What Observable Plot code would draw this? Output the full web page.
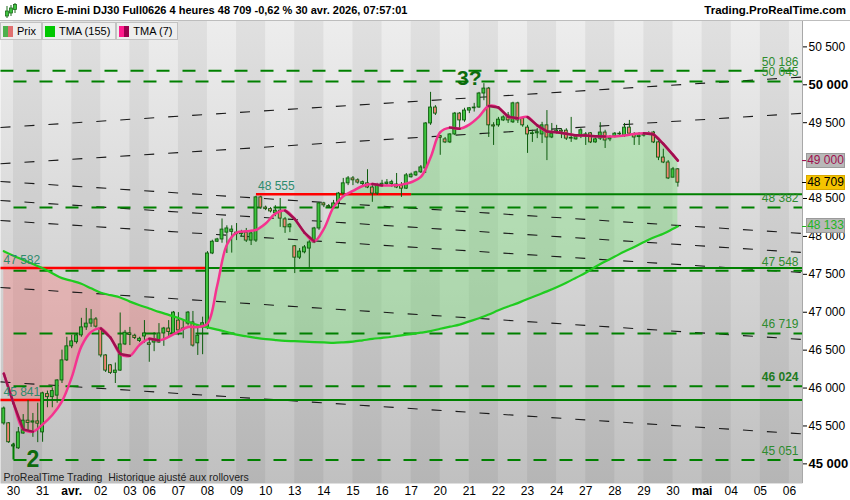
<!DOCTYPE html>
<html lang="fr"><head><meta charset="utf-8">
<script src="https://cdn.jsdelivr.net/npm/d3@7"></script>
<script src="https://cdn.jsdelivr.net/npm/@observablehq/plot@0.6"></script>
<style>
html,body{margin:0;padding:0;background:#fff}
body{width:850px;height:500px;position:relative;overflow:hidden;font-family:Arial,"Liberation Sans",Helvetica,sans-serif;color:#000}
#head{position:absolute;left:0;top:0;width:850px;height:21px;background:#fff;border-bottom:1px solid #bdbdbd;box-sizing:border-box;z-index:2}
#title{position:absolute;left:24px;top:4px;font-size:11px;font-weight:bold;white-space:nowrap}
#site{position:absolute;right:4px;top:4px;font-size:11.5px;font-weight:bold;white-space:nowrap}
#icon{position:absolute;left:4px;top:3px}
#chart{position:absolute;left:0;top:20px}
#legend{position:absolute;left:0;top:22px;height:18px;display:flex;z-index:2}
.lg{height:16px;border:1px solid #c2c2c2;background:#eeeeee;display:flex;align-items:center;font-size:11px;padding:0 5px 0 2px;white-space:nowrap}
.sw{width:10px;height:11px;margin-right:4px;display:flex}
.sw span{flex:1}
.badge{position:absolute;left:806px;width:37px;height:13px;font-size:12px;line-height:13px;text-align:center;border:1px solid #9a9a9a;z-index:3}
.btick{position:absolute;left:802px;width:4px;height:1px;z-index:3}
</style></head><body>
<div id="head">
  <svg id="icon" width="14" height="16"><line x1="3" y1="3" x2="3" y2="15" stroke="#1a6b1a"/><rect x="1.5" y="8" width="3" height="5" fill="#3ec43e" stroke="#1a6b1a" stroke-width="0.8"/><line x1="7" y1="2" x2="7" y2="13" stroke="#1a6b1a"/><rect x="5.5" y="5" width="3" height="5" fill="#3ec43e" stroke="#1a6b1a" stroke-width="0.8"/><line x1="11" y1="0" x2="11" y2="10" stroke="#1a6b1a"/><rect x="9.5" y="1.5" width="3" height="5" fill="#3ec43e" stroke="#1a6b1a" stroke-width="0.8"/></svg>
  <div id="title"></div>
  <div id="site">Trading.ProRealTime.com</div>
</div>
<div id="legend">
  <div class="lg"><div class="sw"><span style="background:#4cb04c"></span><span style="background:#e07070"></span></div>Prix</div>
  <div class="lg"><div class="sw"><span style="background:#00c800"></span></div>TMA (155)</div>
  <div class="lg"><div class="sw"><span style="background:#ff1a8c"></span><span style="background:#99004d"></span></div>TMA (7)</div>
</div>
<div id="chart"></div>
<script>
// ---------- header ----------
const titleText = "Micro E-mini DJ30 Full0626 4 heures 48 709 -0,62 % 30 avr. 2026, 07:57:01";
const footText = "ProRealTime Trading\u00a0 Historique ajusté aux rollovers";

// ---------- 4-hour candles (bar index = position) ----------
const open  = [45533,45535,45230,45205,45400,45570,45545,45560,45415,45920,45880,45900,46100,46365,46550,46605,46695,46800,46850,46905,
46785,46430,46300,46200,46230,46575,46720,46690,46620,46680,46590,46600,46600,46720,46785,46720,46890,46770,46850,46865,
46590,46800,46800,47775,47930,47960,48050,48060,48050,48030,48050,47945,47945,48515,48380,48360,48305,48340,48225,48120,
47870,47720,47790,47840,47920,48105,48435,48400,48385,48435,48565,48700,48765,48740,48690,48700,48645,48565,48670,48690,
48690,48685,48670,48630,48780,48805,48845,48895,49490,49700,49320,49280,49240,49345,49620,49530,49660,49690,49700,49885,
49950,49465,49465,49530,49595,49505,49755,49555,49435,49350,49360,49345,49465,49305,49370,49395,49395,49290,49280,49320,
49345,49360,49240,49290,49370,49280,49320,49355,49330,49435,49345,49310,49330,49345,49370,49240,49040,48975,48775,48885];
const high  = [45750,45545,45270,45480,45650,45835,45665,45800,45945,45960,46000,46110,46500,46670,46695,46720,46920,47050,47035,46930,
46800,46440,46310,46330,46990,46760,46800,46710,46670,46890,46650,46730,46850,46800,46890,47010,46995,46890,47010,47010,
46790,46935,47800,47950,47975,48230,48140,48140,48170,48080,48105,48080,48530,48530,48400,48380,48405,48500,48250,48170,
47880,47840,47880,47945,48120,48450,48450,48420,48475,48580,48765,48790,48790,48760,48730,48880,48670,48700,48740,48750,
48740,48830,48710,48830,48835,48860,48935,49500,49900,49725,49330,49305,49355,49635,49635,49690,49700,49755,49900,50015,
49965,49500,49570,49590,49635,49770,49770,49570,49465,49400,49425,49505,49660,49490,49465,49420,49420,49570,49335,49420,
49370,49370,49295,49500,49400,49330,49370,49380,49490,49530,49370,49370,49370,49380,49385,49265,49150,49000,48910,48895];
const low   = [45510,45270,45200,45190,45390,45440,45350,45280,45285,45740,45740,45800,46060,46350,46520,46580,46670,46760,46800,46790,
46400,46205,46180,46060,46220,46560,46560,46640,46600,46590,46340,46480,46590,46550,46680,46700,46690,46650,46820,46540,
46430,46440,46770,47760,47920,47910,47775,47780,47945,47990,47920,47880,47920,48355,48340,48310,48260,48120,48040,48050,
47510,47695,47770,47575,47905,48080,48380,48370,48370,48370,48515,48670,48670,48690,48670,48630,48450,48540,48660,48670,
48645,48630,48515,48620,48770,48790,48830,48830,49465,49595,49070,49225,49225,49330,49425,49505,49620,49640,49690,49790,
49305,49200,49440,49515,49490,49490,49490,49440,49095,49240,49290,49225,49000,49290,49355,49290,49265,49240,49270,49290,
49200,49225,49230,49265,49160,49250,49300,49305,49305,49330,49200,49200,49310,49335,49225,49000,48960,48750,48775,48650];
const close = [45730,45285,45245,45415,45570,45540,45560,45530,45930,45880,45960,46100,46365,46550,46615,46695,46800,46850,46905,46810,
46430,46230,46200,46230,46575,46730,46700,46660,46650,46720,46570,46640,46720,46785,46740,46995,46760,46785,46995,46560,
46690,46855,47775,47930,47960,48090,48105,48090,48030,48050,47945,48040,48515,48380,48360,48330,48340,48235,48120,48155,
47720,47800,47855,47920,48105,48435,48410,48385,48435,48565,48700,48765,48740,48710,48715,48645,48565,48670,48695,48710,
48715,48645,48630,48805,48815,48845,48910,49490,49700,49620,49300,49240,49345,49620,49530,49660,49690,49700,49885,49950,
49465,49450,49540,49570,49530,49755,49530,49465,49345,49360,49375,49465,49305,49355,49395,49380,49290,49300,49320,49400,
49335,49240,49280,49370,49265,49300,49355,49345,49435,49355,49305,49330,49345,49360,49240,49040,48975,48765,48885,48709];

// ---------- moving averages (every 2 bars + last) ----------
const tmaBars = d3.range(0, 140, 2).concat([139]);
const tma7 = [46190,45800,45455,45425,45520,45645,45825,46140,46550,46740,46785,46665,46450,46425,46570,46650,46630,46675,46745,46805,
46805,46850,47350,47890,48050,48068,48085,48170,48300,48342,48230,48050,47935,48100,48386,48530,48600,48665,48690,48672,
48673,48683,48715,48785,49040,49375,49435,49420,49475,49580,49720,49700,49580,49560,49575,49465,49385,49375,49355,49333,
49331,49320,49318,49318,49330,49352,49362,49345,49220,49075,49000];
const tma155 = [47805,47745,47690,47635,47580,47515,47450,47415,47375,47315,47257,47225,47195,47140,47093,47050,47005,46965,46925,46875,
46830,46800,46770,46740,46705,46683,46662,46645,46633,46623,46618,46612,46607,46603,46597,46603,46613,46630,46648,46662,
46677,46695,46712,46730,46750,46782,46810,46837,46880,46920,46970,47025,47075,47120,47175,47225,47275,47330,47390,47455,
47520,47600,47670,47735,47800,47860,47925,47985,48035,48100,48133];

// ---------- time axis ----------
const dayLabels = ["30","31","avr.","02","03","06","07","08","09","10","13","14","15","16","17","20","21","22","23","24","27","28","29","30","mai","04","05","06"];
const dayStart  = [2,8,14,20,26,30,36,42,48,54,60,66,72,78,84,90,96,102,108,114,120,126,132,138,144,150,156,162];
const monthLabels = ["avr.","mai"];
const xDomain = [-0.68, 164.7];

// ---------- price axis ----------
const yDomain = [44741, 50848];
const yTicks = [45000,45500,46000,46500,47000,47500,48000,48500,49000,49500,50000,50500];
const yBoldTicks = [45000,50000];

// ---------- horizontal levels ----------
const dashLevels = [50186,50045,48382,47548,46719,46024,45051];
const dashStartBar = [-0.68,2,2,2,2,2,2];
const dashBold = [46024];
const solidLevels = [48555,47582,45841];
const solidStartBar = [52,-0.68,-0.68];
const solidBreakBar = [84,42,8];

// ---------- black dashed trend lines (price at left edge, price at right edge) ----------
const trendLeft  = [49437,48958,48725,48474,48210,47327,46081];
const trendRight = [50103,49624,48039,47788,47524,46641,45395];

// ---------- annotations ----------
const annText  = ["3?","2"];
const annBar   = [96,6];
const annPrice = [50086,45060];
const annSize  = [21,23];
const bracketBar = 2, bracketLow = 45051, bracketHigh = 45270;

// ---------- badges ----------
const lastPrice = 48709;

// ===== build =====
document.getElementById("title").textContent = titleText;
const fmt = v => d3.format(",")(v).replace(/,/g, " ");
const bars = open.map((o, i) => ({i, o, h: high[i], l: low[i], c: close[i]}));
const tma = tmaBars.map((b, k) => ({b, t7: tma7[k], t155: tma155[k]}));
const segs = tma.slice(1).map((d, k) => ({b1: tma[k].b, v1: tma[k].t7, b2: d.b, v2: d.t7, down: d.t7 < tma[k].t7}));
const bands = dayStart.map((s, k) => ({s, e: k + 1 < dayStart.length ? dayStart[k + 1] : xDomain[1], dark: k % 2 === 0}));
const dashData = dashLevels.map((v, k) => ({v, s: dashStartBar[k]}));
const solidData = solidLevels.map((v, k) => ({v, s: solidStartBar[k], b: solidBreakBar[k]}));
const trendData = trendLeft.map((l, k) => ({l, r: trendRight[k]}));
const annData = annText.map((t, k) => ({t, b: annBar[k], v: annPrice[k], size: annSize[k]}));
const dayData = dayLabels.map((t, k) => ({t, s: dayStart[k]}));
const labelOf = new Map(dayData.map(d => [d.s, d.t]));

const green = "#008000";
const chart = Plot.plot({
  width: 850, height: 480,
  marginLeft: 0, marginRight: 48, marginTop: 0, marginBottom: 17,
  x: {domain: xDomain},
  y: {domain: yDomain},
  style: {fontFamily: "Arial, 'Liberation Sans', sans-serif", fontSize: "12px", background: "#fff", overflow: "visible"},
  marks: [
    Plot.frame({fill: "url(#bgGrad)", stroke: null}),
    Plot.rect(bands.filter(d => d.dark), {x1: "s", x2: "e", fill: "#000", fillOpacity: 0.055}),
    // fills between averages
    Plot.areaY(tma, {x: "b", y1: "t155", y2: d => Math.min(d.t7, d.t155), fill: "#ff6f6f", fillOpacity: 0.33, curve: "catmull-rom"}),
    Plot.areaY(tma, {x: "b", y1: "t155", y2: d => Math.max(d.t7, d.t155), fill: "#6fe06f", fillOpacity: 0.36, curve: "catmull-rom"}),
    // trend lines
    Plot.link(trendData, {x1: () => xDomain[0], x2: () => xDomain[1], y1: "l", y2: "r", stroke: "#1a1a1a", strokeWidth: 1.1, strokeDasharray: "10,14"}),
    // dashed levels
    Plot.link(dashData, {x1: "s", x2: () => xDomain[1], y1: "v", y2: "v", stroke: green, strokeWidth: 2, strokeDasharray: "13,13"}),
    // solid levels
    Plot.link(solidData, {x1: "s", x2: "b", y1: "v", y2: "v", stroke: "#ff0000", strokeWidth: 2.5}),
    Plot.link(solidData, {x1: "b", x2: () => xDomain[1], y1: "v", y2: "v", stroke: green, strokeWidth: 2}),
    Plot.ruleX([bracketBar], {y1: bracketLow, y2: bracketHigh, stroke: green, strokeWidth: 2}),
    // candles
    Plot.ruleX(bars, {x: "i", y1: "l", y2: "h", stroke: "#0d5c0d", strokeWidth: 1}),
    Plot.rect(bars, {x1: d => d.i - 0.3, x2: d => d.i + 0.3, y1: "o", y2: "c", fill: d => d.c >= d.o ? "#3ec43e" : "#f08474", stroke: "#0d5c0d", strokeWidth: 0.9}),
    // averages
    Plot.line(tma, {x: "b", y: "t155", stroke: "#1fcc1f", strokeWidth: 2.2, curve: "catmull-rom"}),
    Plot.line(tma, {x: "b", y: "t7", stroke: "#f5338f", strokeWidth: 2.5, curve: "catmull-rom"}),
    Plot.link(segs.filter(d => d.down), {x1: "b1", y1: "v1", x2: "b2", y2: "v2", stroke: "#a0104f", strokeWidth: 2.5, strokeLinecap: "round"}),
    // level labels
    Plot.text(dashData.filter(d => !dashBold.includes(d.v)), {y: "v", text: d => fmt(d.v), frameAnchor: "right", textAnchor: "end", dx: -4, dy: -9, fill: "#2e8b2e", fontSize: 12}),
    Plot.text(dashData.filter(d => dashBold.includes(d.v)), {y: "v", text: d => fmt(d.v), frameAnchor: "right", textAnchor: "end", dx: -4, dy: -9, fill: "#1e7a1e", fontSize: 12, fontWeight: "bold"}),
    Plot.text(solidData.filter(d => d.s < 0), {y: "v", text: d => fmt(d.v), frameAnchor: "left", textAnchor: "start", dx: 3, dy: -8, fill: "#2e8b6e", fontSize: 12}),
    Plot.text(solidData.filter(d => d.s >= 0), {x: "s", y: "v", text: d => fmt(d.v), textAnchor: "start", dx: 2, dy: -8, fill: "#2e8b6e", fontSize: 12}),
    // annotations
    Plot.text(annData.slice(0, 1), {x: "b", y: "v", text: "t", fontSize: 21, fontWeight: "bold", fill: "#0d6b0d", lineAnchor: "middle"}),
    Plot.text(annData.slice(1), {x: "b", y: "v", text: "t", fontSize: 23, fontWeight: "bold", fill: "#0d6b0d", lineAnchor: "middle"}),
    Plot.text([footText], {frameAnchor: "bottom-left", textAnchor: "start", lineAnchor: "bottom", dx: 3, dy: -3, fill: "#222", fontSize: 10.5}),
    // axes
    Plot.ruleX([xDomain[1]], {stroke: "#a8a8a8"}),
    Plot.axisY({anchor: "right", ticks: yTicks.filter(t => !yBoldTicks.includes(t)), tickFormat: fmt, tickSize: 4, tickPadding: 2, fontSize: 12, color: "#000"}),
    Plot.axisY({anchor: "right", ticks: yBoldTicks, tickFormat: fmt, tickSize: 4, tickPadding: 2, fontSize: 13, fontWeight: "bold", color: "#000"}),
    Plot.axisX({ticks: dayStart.filter(s => !monthLabels.includes(labelOf.get(s))), tickFormat: d => labelOf.get(d), tickSize: 0, tickPadding: 3, fontSize: 12, color: "#000"}),
    Plot.axisX({ticks: dayStart.filter(s => monthLabels.includes(labelOf.get(s))), tickFormat: d => labelOf.get(d), tickSize: 0, tickPadding: 3, fontSize: 12, fontWeight: "bold", color: "#000"})
  ]
});

// gradient background definition
const svgSel = d3.select(chart.tagName.toLowerCase() === "svg" ? chart : chart.querySelector("svg"));
const grad = svgSel.insert("defs", ":first-child").append("linearGradient")
  .attr("id", "bgGrad").attr("x1", 0).attr("y1", 0).attr("x2", 0).attr("y2", 1);
grad.append("stop").attr("offset", "0%").attr("stop-color", "#ededed");
grad.append("stop").attr("offset", "100%").attr("stop-color", "#c0c0c0");
document.getElementById("chart").appendChild(chart);

// badges on the price axis
const ys = chart.scale("y");
function badge(v, bg, fg, tick) {
  const top = 20 + ys.apply(v);
  const b = document.createElement("div");
  b.className = "badge";
  b.style.top = (top - 7.5) + "px";
  b.style.background = bg; b.style.color = fg;
  b.textContent = fmt(v);
  document.body.appendChild(b);
  const t = document.createElement("div");
  t.className = "btick"; t.style.top = top + "px"; t.style.background = tick;
  document.body.appendChild(t);
  return b;
}
badge(tma7[tma7.length - 1], "#b8b8b8", "#a0104f", "#a0104f");
const bp = badge(lastPrice, "#f5c400", "#000", "#000"); bp.style.borderColor = "#d9a800";
badge(tma155[tma155.length - 1], "#b8b8b8", "#1fb51f", "#1fb51f");
</script>
</body></html>
